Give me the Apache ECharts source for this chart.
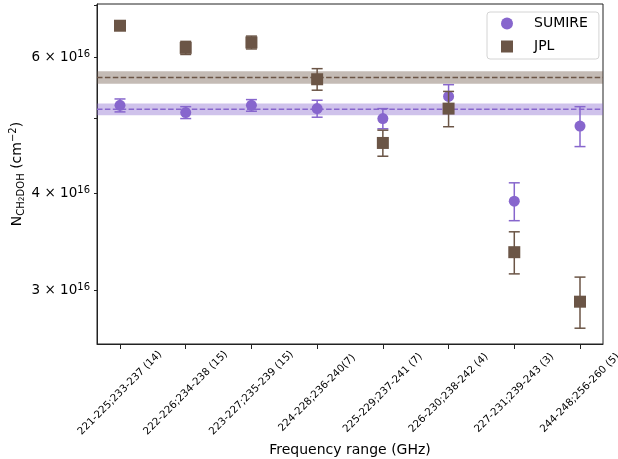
<!DOCTYPE html>
<html>
<head>
<meta charset="utf-8">
<script src="https://cdn.jsdelivr.net/npm/echarts@6/dist/echarts.min.js"></script>
<style>
  html, body { margin: 0; padding: 0; background: #fff; }
  #main { width: 618px; height: 459px; }
</style>
</head>
<body>
<div id="main"></div>
<script>
// categories (frequency windows, number of lines)
const categories = [
  "221-225;233-237 (14)",
  "222-226;234-238 (15)",
  "223-227;235-239 (15)",
  "224-228;236-240(7)",
  "225-229;237-241 (7)",
  "226-230;238-242 (4)",
  "227-231;239-243 (3)",
  "244-248;256-260 (5)"
];
// column densities
const sumireValues = [5.20e16, 5.09e16, 5.20e16, 5.15e16, 5.00e16, 5.34e16, 3.91e16, 4.89e16];
const sumireErrors = [0.10e16, 0.09e16, 0.09e16, 0.13e16, 0.15e16, 0.19e16, 0.22e16, 0.29e16];
const jplValues = [6.59e16, 6.17e16, 6.27e16, 5.62e16, 4.65e16, 5.15e16, 3.36e16, 2.90e16];
const jplErrors = [0.05e16, 0.12e16, 0.12e16, 0.18e16, 0.18e16, 0.27e16, 0.21e16, 0.22e16];
// weighted means and their uncertainty bands
const sumireMean = 5.14e16, sumireBand = 0.09e16;
const jplMean = 5.65e16, jplBand = 0.105e16;
// y ticks (log axis)
const yTickValues = [3e16, 4e16, 5e16, 6e16, 7e16];
const yLabelValues = [3e16, 4e16, 6e16];

const purple = "#8766cd";
const brown = "#6b5546";
const font = "DejaVu Sans";
const xMin = -0.35, xMax = 7.35;

function errorBar(color) {
  return function (params, api) {
    const x = api.value(0);
    const top = api.coord([x, api.value(2)]);
    const bot = api.coord([x, api.value(1)]);
    const half = 5.5;
    const style = { stroke: color, lineWidth: 1.5 };
    return {
      type: "group",
      children: [
        { type: "line", shape: { x1: top[0], y1: top[1], x2: bot[0], y2: bot[1] }, style: style },
        { type: "line", shape: { x1: top[0] - half, y1: top[1], x2: top[0] + half, y2: top[1] }, style: style },
        { type: "line", shape: { x1: bot[0] - half, y1: bot[1], x2: bot[0] + half, y2: bot[1] }, style: style }
      ]
    };
  };
}

function meanLine(name, mean, band, color, fill) {
  return {
    name: name,
    type: "line",
    z: 1,
    symbol: "none",
    silent: true,
    data: [[xMin, mean], [xMax, mean]],
    lineStyle: { color: color, width: 1.5, type: [5.5, 2.4] },
    markArea: {
      silent: true,
      itemStyle: { color: fill },
      data: [[{ yAxis: mean - band }, { yAxis: mean + band }]]
    }
  };
}

const chart = echarts.init(document.getElementById("main"));
chart.setOption({
  animation: false,
  textStyle: { fontFamily: font },
  grid: {
    left: 97, right: 15, top: 4, bottom: 115,
    outerBoundsMode: "none",
    containLabel: false,
    show: true, borderColor: "#222", borderWidth: 1
  },
  legend: {
    orient: "vertical",
    left: 487, top: 12,
    padding: [4, 11, 5, 14],
    itemWidth: 12, itemHeight: 12, itemGap: 8,
    borderColor: "#d4d4d4", borderWidth: 1, borderRadius: 3,
    textStyle: { fontFamily: font, fontSize: 14, color: "#000", padding: [0, 0, 0, 16], lineHeight: 15 },
    data: [{ name: "SUMIRE", icon: "circle" }, { name: "JPL", icon: "rect" }]
  },
  xAxis: {
    type: "value",
    min: xMin, max: xMax,
    name: "Frequency range (GHz)",
    nameLocation: "middle",
    nameGap: 99,
    nameMoveOverlap: false,
    nameTextStyle: { fontFamily: font, fontSize: 14, color: "#000" },
    splitLine: { show: false },
    axisLine: { show: true, onZero: false, lineStyle: { color: "#222", width: 1 } },
    axisTick: { show: true, length: 5, customValues: categories.map((c, i) => i), lineStyle: { color: "#222" } },
    axisLabel: {
      customValues: categories.map((c, i) => i),
      formatter: v => categories[Math.round(v)],
      rotate: 45,
      align: "center",
      verticalAlign: "middle",
      margin: 49,
      fontFamily: font, fontSize: 10.3, color: "#000"
    }
  },
  yAxis: {
    type: "log",
    logBase: 10,
    min: 2.557e16, max: 7.03e16,
    name: "{m|N}{s|CH}{ss|2}{s|DOH}{m| (cm}{p|\u22122}{m|)}",
    nameLocation: "middle",
    nameRotate: 90,
    nameGap: 71,
    nameMoveOverlap: false,
    nameTextStyle: {
      color: "#000",
      rich: {
        m: { fontFamily: font, fontSize: 14, lineHeight: 18, color: "#000" },
        s: { fontFamily: font, fontSize: 10, lineHeight: 10, verticalAlign: "bottom", color: "#000" },
        ss: { fontFamily: font, fontSize: 7.5, lineHeight: 6, verticalAlign: "bottom", color: "#000" },
        p: { fontFamily: font, fontSize: 10, lineHeight: 9, verticalAlign: "top", color: "#000" }
      }
    },
    splitLine: { show: false },
    axisLine: { show: true, onZero: false, lineStyle: { color: "#222", width: 1 } },
    axisTick: { show: true, length: 3, customValues: yTickValues, lineStyle: { color: "#222" } },
    axisLabel: {
      customValues: yLabelValues,
      margin: 7,
      formatter: v => "{m|" + Math.round(v / 1e16) + " \u00d7 10}{p|16}",
      rich: {
        m: { fontFamily: font, fontSize: 13.5, lineHeight: 16, color: "#000" },
        p: { fontFamily: font, fontSize: 10, lineHeight: 8, verticalAlign: "top", color: "#000" }
      }
    }
  },
  series: [
    meanLine("jplMean", jplMean, jplBand, brown, "rgba(107,85,70,0.4)"),
    meanLine("sumireMean", sumireMean, sumireBand, purple, "rgba(135,102,205,0.4)"),
    {
      name: "SUMIRE err",
      type: "custom",
      z: 2,
      silent: true,
      renderItem: errorBar(purple),
      encode: { x: 0, y: [1, 2] },
      data: sumireValues.map((v, i) => [i, v - sumireErrors[i], v + sumireErrors[i]])
    },
    {
      name: "SUMIRE",
      type: "scatter",
      z: 3,
      symbol: "circle",
      symbolSize: 11,
      itemStyle: { color: purple, opacity: 1 },
      data: sumireValues.map((v, i) => [i, v])
    },
    {
      name: "JPL err",
      type: "custom",
      z: 4,
      silent: true,
      renderItem: errorBar(brown),
      encode: { x: 0, y: [1, 2] },
      data: jplValues.map((v, i) => [i, v - jplErrors[i], v + jplErrors[i]])
    },
    {
      name: "JPL",
      type: "scatter",
      z: 5,
      symbol: "rect",
      symbolSize: 12,
      itemStyle: { color: brown, opacity: 1 },
      data: jplValues.map((v, i) => [i, v])
    }
  ]
});
</script>
</body>
</html>
